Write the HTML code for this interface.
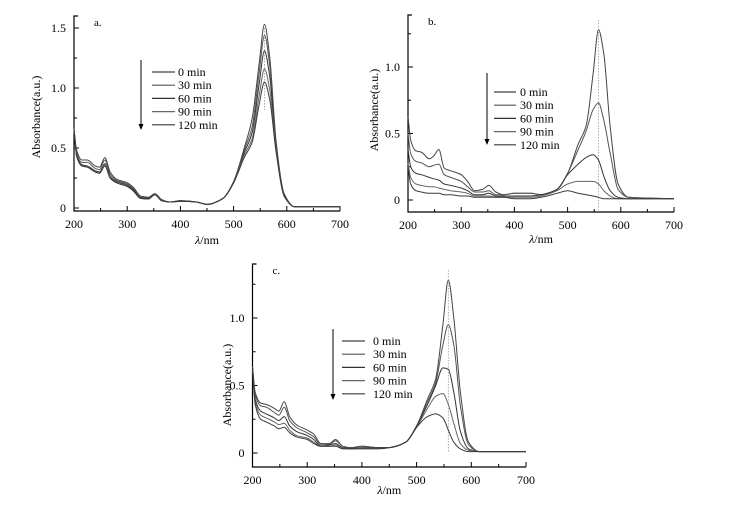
<!DOCTYPE html>
<html><head><meta charset="utf-8">
<style>
html,body{margin:0;padding:0;background:#fff;}
svg{display:block;font-family:"Liberation Serif",serif;}
</style></head>
<body>
<svg id="chart" width="735" height="514" viewBox="0 0 735 514"></svg>
<script>
const wavelengths=[200,205,215,225,240,248,258,268,280,300,312,325,340,352,365,380,400,430,450,480,500,520,535,548,558,568,580,595,615,700];
const legendLabels=["0 min","30 min","60 min","90 min","120 min"];
const xTicks=[200,300,400,500,600,700];
const yTicksA=[0,0.5,1.0,1.5];
const yTicksBC=[0,0.5,1.0];
const a0=[0.66,0.48,0.40,0.40,0.35,0.34,0.42,0.30,0.24,0.21,0.17,0.10,0.09,0.12,0.07,0.05,0.06,0.05,0.03,0.08,0.22,0.50,0.75,1.20,1.53,1.25,0.55,0.12,0.01,0.01];
const a30=[0.66,0.46,0.38,0.38,0.33,0.32,0.40,0.28,0.23,0.20,0.16,0.09,0.085,0.115,0.065,0.05,0.06,0.05,0.03,0.08,0.22,0.48,0.68,1.12,1.44,1.18,0.52,0.11,0.01,0.01];
const a60=[0.65,0.44,0.36,0.35,0.31,0.30,0.37,0.26,0.22,0.19,0.15,0.085,0.08,0.11,0.06,0.05,0.06,0.05,0.03,0.08,0.21,0.46,0.63,1.03,1.31,1.09,0.50,0.11,0.01,0.01];
const a90=[0.65,0.43,0.35,0.34,0.30,0.29,0.36,0.25,0.21,0.18,0.14,0.08,0.075,0.11,0.06,0.05,0.055,0.05,0.03,0.08,0.21,0.44,0.58,0.93,1.16,0.98,0.48,0.10,0.01,0.01];
const a120=[0.65,0.43,0.35,0.34,0.30,0.29,0.35,0.25,0.21,0.18,0.14,0.08,0.075,0.11,0.06,0.05,0.055,0.05,0.03,0.08,0.21,0.42,0.55,0.86,1.05,0.90,0.46,0.10,0.01,0.01];
const b0=[0.63,0.45,0.37,0.36,0.31,0.33,0.38,0.24,0.22,0.19,0.14,0.07,0.08,0.11,0.06,0.04,0.05,0.05,0.04,0.08,0.20,0.42,0.56,0.95,1.28,1.10,0.55,0.12,0.02,0.01];
const b30=[0.50,0.35,0.29,0.28,0.25,0.26,0.27,0.19,0.17,0.14,0.10,0.06,0.06,0.07,0.04,0.04,0.05,0.05,0.04,0.08,0.20,0.38,0.52,0.68,0.73,0.60,0.35,0.08,0.02,0.01];
const b60=[0.38,0.25,0.20,0.19,0.17,0.16,0.15,0.12,0.11,0.09,0.07,0.04,0.04,0.05,0.03,0.03,0.03,0.03,0.04,0.08,0.19,0.27,0.32,0.34,0.30,0.18,0.07,0.02,0.01,0.01];
const b90=[0.28,0.17,0.12,0.11,0.10,0.10,0.09,0.08,0.07,0.06,0.05,0.03,0.03,0.03,0.02,0.02,0.02,0.02,0.03,0.07,0.12,0.14,0.14,0.14,0.12,0.07,0.03,0.01,0.01,0.01];
const b120=[0.25,0.12,0.07,0.06,0.05,0.05,0.05,0.04,0.04,0.03,0.03,0.02,0.02,0.02,0.02,0.02,0.01,0.01,0.02,0.05,0.07,0.05,0.04,0.03,0.02,0.01,0.01,0.01,0.01,0.01];
const c0=[0.64,0.45,0.37,0.36,0.33,0.31,0.38,0.27,0.21,0.17,0.14,0.07,0.07,0.10,0.05,0.04,0.05,0.04,0.04,0.08,0.20,0.40,0.55,0.95,1.28,1.00,0.45,0.08,0.01,0.01];
const c30=[0.64,0.43,0.35,0.34,0.30,0.28,0.34,0.24,0.19,0.15,0.12,0.06,0.065,0.09,0.05,0.04,0.05,0.04,0.04,0.08,0.20,0.38,0.52,0.80,0.95,0.80,0.35,0.06,0.01,0.01];
const c60=[0.63,0.40,0.31,0.29,0.26,0.24,0.27,0.20,0.16,0.13,0.10,0.05,0.06,0.07,0.04,0.035,0.04,0.04,0.04,0.08,0.20,0.36,0.50,0.63,0.62,0.45,0.16,0.03,0.01,0.01];
const c90=[0.62,0.38,0.28,0.26,0.23,0.21,0.22,0.17,0.13,0.11,0.08,0.05,0.05,0.06,0.035,0.03,0.035,0.035,0.04,0.08,0.19,0.33,0.42,0.44,0.36,0.22,0.07,0.02,0.01,0.01];
const c120=[0.62,0.36,0.25,0.23,0.20,0.18,0.19,0.15,0.12,0.10,0.07,0.05,0.05,0.05,0.03,0.03,0.03,0.03,0.04,0.08,0.19,0.27,0.29,0.26,0.17,0.08,0.03,0.01,0.01,0.01];
const peakLine=558;

const NS="http://www.w3.org/2000/svg";
const svg=document.getElementById('chart');
function mk(tag,attrs,parent,txt){const e=document.createElementNS(NS,tag);for(const k in attrs)e.setAttribute(k,attrs[k]);if(txt!==undefined)e.textContent=txt;(parent||svg).appendChild(e);return e;}
const colors=["#444","#555","#333","#666","#3a3a3a"];

const panels=[
 {id:'a',series:[a0,a30,a60,a90,a120],yt:yTicksA,x0:74,x1:340,y0px:208,ppu:120,top:16,bot:211,ylabX:40,ylabY:117,xlabY:244,
  arrow:[141,60,130],leg:[152,175,178,72],peakTop:28,peakBot:110},
 {id:'b',series:[b0,b30,b60,b90,b120],yt:yTicksBC,x0:408,x1:674,y0px:200,ppu:133,top:15,bot:212,ylabX:378,ylabY:110,xlabY:243,
  arrow:[487,73,145],leg:[494,516,520,92],peakTop:20,peakBot:210},
 {id:'c',series:[c0,c30,c60,c90,c120],yt:yTicksBC,x0:252.5,x1:526,y0px:453,ppu:135,top:264,bot:467,ylabX:231,ylabY:385,xlabY:494,
  arrow:[333,329,400],leg:[342,365,373,341],peakTop:270,peakBot:453}
];

// monotone cubic (Fritsch-Carlson) path
function smooth(pts){
 const n=pts.length,dx=[],m=[],t=[];
 for(let i=0;i<n-1;i++){dx[i]=pts[i+1][0]-pts[i][0];m[i]=(pts[i+1][1]-pts[i][1])/dx[i];}
 t[0]=m[0];t[n-1]=m[n-2];
 for(let i=1;i<n-1;i++){if(m[i-1]*m[i]<=0)t[i]=0;else{const w1=2*dx[i]+dx[i-1],w2=dx[i]+2*dx[i-1];t[i]=(w1+w2)/(w1/m[i-1]+w2/m[i]);}}
 let d=`M${pts[0][0].toFixed(1)},${pts[0][1].toFixed(1)}`;
 for(let i=0;i<n-1;i++){const h=dx[i]/3;
  d+=` C${(pts[i][0]+h).toFixed(1)},${(pts[i][1]+t[i]*h).toFixed(1)} ${(pts[i+1][0]-h).toFixed(1)},${(pts[i+1][1]-t[i+1]*h).toFixed(1)} ${pts[i+1][0].toFixed(1)},${pts[i+1][1].toFixed(1)}`;}
 return d;}

panels.forEach(P=>{
 const g=mk('g',{});
 
 
 const xs=w=>P.x0+(w-200)/500*(P.x1-P.x0);
 const ys=v=>P.y0px-v*P.ppu;
 const ax=mk('path',{d:`M${P.x0+4},${P.top} H${P.x0} V${P.bot} H${P.x1}`,fill:'none',stroke:'#000','stroke-width':1.2},g);
 
 
 for(let w=200;w<=700;w+=50){const x=xs(w);mk('line',{x1:x,x2:x,y1:P.bot,y2:P.bot-(w%100===0?5:3),stroke:'#000'},g);}
 xTicks.forEach(w=>{const t=mk('text',{x:xs(w),y:P.bot+17,'text-anchor':'middle','font-size':12},g,String(w));
  });
 const ymax=P.yt[P.yt.length-1];
 for(let v=0;v<=ymax+0.26;v+=0.25){const y=ys(v);if(y<P.top)continue;mk('line',{x1:P.x0,x2:P.x0+(Math.abs(v*2-Math.round(v*2))<1e-6?5:3),y1:y,y2:y,stroke:'#000'},g);}
 P.yt.forEach(v=>{const t=mk('text',{x:P.x0-8,y:ys(v)+4,'text-anchor':'end','font-size':12},g,v===0?'0':v.toFixed(1));
  });
 const yl=mk('text',{x:P.ylabX,y:P.ylabY,'text-anchor':'middle','font-size':12,transform:`rotate(-90 ${P.ylabX} ${P.ylabY})`},g,'Absorbance(a.u.)');
 
 const xl=mk('text',{x:(P.x0+P.x1)/2,y:P.xlabY,'text-anchor':'middle','font-size':12},g);
 
 mk('tspan',{'font-style':'italic'},xl,'λ');mk('tspan',{},xl,'/nm');
 const pl=mk('text',{x:P.x0+20,y:P.top+10,'font-size':11},g,P.id+'.');
 
 const px=xs(peakLine);
 const dl=mk('line',{x1:px,x2:px,y1:P.peakTop,y2:P.peakBot,stroke:'#999','stroke-width':0.8,'stroke-dasharray':'1.5,1.5'},g);
 
 P.series.forEach((s,i)=>{const pts=wavelengths.map((w,k)=>[xs(w),ys(s[k])]);
  const p=mk('path',{d:smooth(pts),fill:'none',stroke:colors[i],'stroke-width':1},g);
  
  });
 const [axx,ay1,ay2]=P.arrow;
 const ar=mk('g',{},g);
 mk('line',{x1:axx,x2:axx,y1:ay1,y2:ay2-4,stroke:'#000','stroke-width':1},ar);
 mk('path',{d:`M${axx-2.5},${ay2-6} L${axx+2.5},${ay2-6} L${axx},${ay2} Z`,fill:'#000'},ar);
 const [lx1,lx2,tx,ly]=P.leg;
 legendLabels.forEach((lab,i)=>{const y=ly+i*13.2;const e=mk('g',{},g);
  
  mk('line',{x1:lx1,x2:lx2,y1:y,y2:y,stroke:colors[i],'stroke-width':1.2},e);
  mk('text',{x:tx,y:y+4,'font-size':12},e,lab);});
});
</script>
</body></html>
